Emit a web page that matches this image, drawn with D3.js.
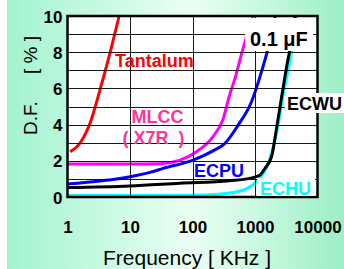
<!DOCTYPE html>
<html>
<head>
<meta charset="utf-8">
<script src="https://cdn.jsdelivr.net/npm/d3@7"></script>
<style>
  html, body { margin: 0; padding: 0; background: #fff; }
  svg { display: block; }
  text { font-family: "Liberation Sans", Arial, sans-serif; }
</style>
</head>
<body>
<svg id="chart" width="344" height="269"></svg>
<script>
// ---- data ----
const xTicks = [1, 10, 100, 1000, 10000];
const xTickLabels = ["1", "10", "100", "1000", "10000"];
const xGrid = [10, 100, 1000];
const yTicks = [0, 2, 4, 6, 8, 10];
const yGrid = [1, 2, 3, 4, 5, 6, 7, 8, 9];

const tantalumF = [1.1, 1.58, 2.29, 3.3, 4.77, 6.7];
const tantalumDF = [2.5, 2.97, 4.07, 5.9, 7.94, 10];

const mlccF = [1, 10, 30, 63, 116, 213, 308, 394, 474, 643, 929];
const mlccDF = [1.82, 1.82, 1.84, 2.04, 2.5, 3.33, 4.3, 5.65, 6.5, 8.2, 10];

const ecpuF = [1, 10, 20.8, 33.9, 102, 213, 328, 535, 876, 1265, 1614, 2118];
const ecpuDF = [0.72, 1.12, 1.36, 1.58, 2.04, 2.55, 2.95, 3.96, 5.25, 6.9, 8.2, 10];

const ecwuF = [1, 10, 63, 394, 820, 1190, 1430, 1850, 2200, 2630, 3170, 4050, 4400];
const ecwuDF = [0.52, 0.61, 0.76, 0.9, 1.03, 1.2, 1.56, 2.25, 3.75, 5.4, 7.1, 9.1, 10];

const echuF = [1, 100, 250, 400, 740, 1110, 1520, 1930, 2340, 2800, 3800, 4600];
const echuDF = [0.08, 0.1, 0.15, 0.22, 0.46, 0.92, 1.6, 2.67, 3.96, 5.6, 7.9, 10];

const seriesNames = ["ECHU", "ECWU", "ECPU", "MLCC", "Tantalum"];
const seriesColors = ["#00ffff", "#000000", "#0000ff", "#ff00ff", "#ff0000"];

// ---- layout ----
const svg = d3.select("#chart");
const L = 67.5, R = 317.5, T = 16, B = 197;
const x = d3.scaleLog().domain([1, 10000]).range([L, R]);
const y = d3.scaleLinear().domain([0, 10]).range([B, T]);

// background gradient
const defs = svg.append("defs");
const grad = defs.append("linearGradient").attr("id", "bg").attr("x1", "0").attr("x2", "1").attr("y1", "0").attr("y2", "0");
grad.append("stop").attr("offset", "0").attr("stop-color", "#a2f3d0");
grad.append("stop").attr("offset", "0.55").attr("stop-color", "#ebfff3");
grad.append("stop").attr("offset", "1").attr("stop-color", "#9cefc6");
svg.append("rect").attr("x", 7).attr("y", 0).attr("width", 337).attr("height", 269).attr("fill", "url(#bg)");

// plot area
svg.append("rect").attr("x", L).attr("y", T).attr("width", R - L).attr("height", B - T).attr("fill", "#fff");

// curves
const allF = [echuF, ecwuF, ecpuF, mlccF, tantalumF];
const allDF = [echuDF, ecwuDF, ecpuDF, mlccDF, tantalumDF];
const line = d3.line().x(d => x(d[0])).y(d => y(d[1])).curve(d3.curveMonotoneX);
const curveG = svg.append("g");
seriesNames.forEach((name, i) => {
  const pts = allF[i].map((f, j) => [f, allDF[i][j]]);
  curveG.append("path").datum(pts).attr("d", line)
    .attr("fill", "none").attr("stroke", seriesColors[i]).attr("stroke-width", 3);
});

// grid lines, drawn over the curves
const gridG = svg.append("g").attr("stroke", "#000").attr("stroke-width", 1).attr("stroke-opacity", 0.9);
gridG.selectAll("line.gx").data(xGrid).join("line").attr("class", "gx")
  .attr("x1", d => Math.round(x(d)) + 0.5).attr("x2", d => Math.round(x(d)) + 0.5)
  .attr("y1", T).attr("y2", B);
gridG.selectAll("line.gy").data(yGrid).join("line").attr("class", "gy")
  .attr("x1", L).attr("x2", R)
  .attr("y1", d => Math.round(y(d)) + 0.5).attr("y2", d => Math.round(y(d)) + 0.5);

// border
svg.append("rect").attr("x", L).attr("y", T).attr("width", R - L).attr("height", B - T)
  .attr("fill", "none").attr("stroke", "#000").attr("stroke-width", 2.5);

// x tick labels
svg.append("g").attr("transform", `translate(0,${B})`)
  .call(d3.axisBottom(x).tickValues(xTicks).tickSize(0).tickPadding(0).tickFormat((d, i) => xTickLabels[i]))
  .call(g => g.select(".domain").remove())
  .call(g => g.selectAll("text").attr("y", 36).attr("dy", 0)
    .attr("font-size", 17).attr("font-weight", "bold").attr("fill", "#000")
    .attr("font-family", "Liberation Sans, Arial, sans-serif"));

// y tick labels
svg.append("g").attr("transform", `translate(${L},0)`)
  .call(d3.axisLeft(y).tickValues(yTicks).tickSize(0).tickPadding(5).tickFormat(d3.format("d")))
  .call(g => g.select(".domain").remove())
  .call(g => g.selectAll("text").attr("dy", "0.36em")
    .attr("font-size", 17).attr("font-weight", "bold").attr("fill", "#000")
    .attr("font-family", "Liberation Sans, Arial, sans-serif"));

// axis titles
svg.append("text").attr("x", 187).attr("y", 265).attr("text-anchor", "middle")
  .attr("font-size", 21).attr("fill", "#000").text("Frequency [ KHz ]");
svg.append("text").attr("transform", "translate(37,118) rotate(-90)").attr("text-anchor", "middle")
  .attr("font-size", 19).attr("fill", "#000").text("D.F.");
svg.append("text").attr("transform", "translate(37,55) rotate(-90)").attr("text-anchor", "middle")
  .attr("font-size", 19).attr("fill", "#000").style("white-space", "pre").text("[ % ]");

// series labels
function label(txt, lx, ly, color, size, box) {
  if (box) svg.append("rect").attr("x", box[0]).attr("y", box[1]).attr("width", box[2]).attr("height", box[3]).attr("fill", "#fff");
  svg.append("text").attr("x", lx).attr("y", ly).attr("fill", color).attr("font-size", size)
    .attr("font-weight", "bold").style("white-space", "pre").text(txt);
}
label("0.1 μF", 250, 46, "#000", 20, [245, 18, 68, 33]);
label("Tantalum", 115, 67, "#ff0000", 18);
label("MLCC", 131.5, 123, "#ff3399", 18);
label("( X7R  )", 122.5, 144, "#ff3399", 18);
label("ECPU", 194, 177, "#0000ff", 18);
label("ECWU", 287, 109.5, "#000", 18, [285, 93, 59, 20]);
label("ECHU", 260, 195, "#00ffff", 18, [257, 178, 58, 18]);
</script>
</body>
</html>
